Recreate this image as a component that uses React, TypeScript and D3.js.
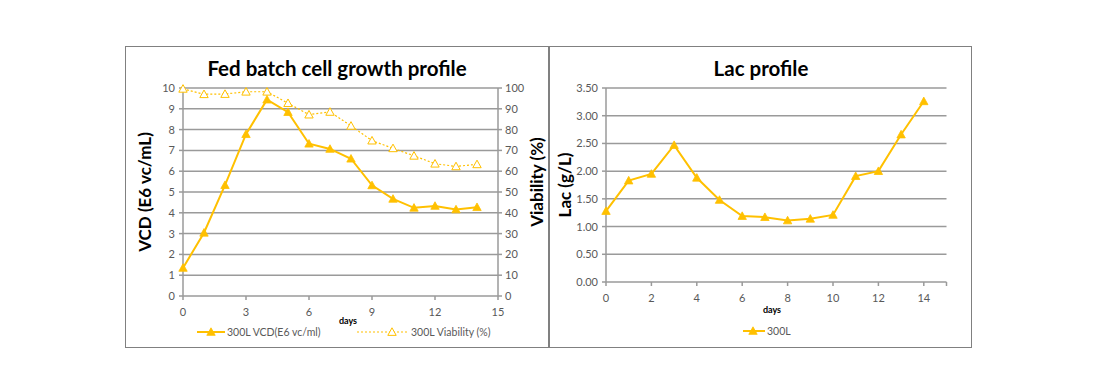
import React, { useEffect, useRef } from "react";
import * as d3 from "d3";

const days = [0, 1, 2, 3, 4, 5, 6, 7, 8, 9, 10, 11, 12, 13, 14];
const vcd = [1.35, 3.04, 5.33, 7.78, 9.44, 8.84, 7.32, 7.07, 6.6, 5.32, 4.67, 4.24, 4.33, 4.16, 4.27];
const viability = [99.6, 97.0, 97.1, 98.2, 98.2, 92.7, 87.2, 88.5, 81.8, 74.7, 71.0, 67.4, 63.6, 62.3, 63.3];
const lac = [1.28, 1.83, 1.95, 2.47, 1.88, 1.48, 1.19, 1.17, 1.11, 1.14, 1.21, 1.91, 2.0, 2.66, 3.26];

const leftXTicks = [0, 3, 6, 9, 12, 15];
const rightXTicks = [0, 2, 4, 6, 8, 10, 12, 14];
const vcdTicks = [0, 1, 2, 3, 4, 5, 6, 7, 8, 9, 10];
const viaTicks = [0, 10, 20, 30, 40, 50, 60, 70, 80, 90, 100];
const lacTicks = [0, 0.5, 1, 1.5, 2, 2.5, 3, 3.5];

const GOLD = "#FFC000";
const GRID = "#9a9a9a";
const LABEL = "#595959";
const FONT = "Lato, 'Open Sans', sans-serif";

function triangle(g, x, y, hollow) {
  const s = 4.2;
  g.append("path")
    .attr("d", `M${x},${y - s}L${x + s},${y + s * 0.8}L${x - s},${y + s * 0.8}Z`)
    .attr("fill", hollow ? "#fff" : GOLD)
    .attr("stroke", GOLD)
    .attr("stroke-width", hollow ? 1 : 0.8);
}

function drawChart(svgEl) {
  const svg = d3.select(svgEl);
  svg.selectAll("*").remove();

  // ---- left panel ----
  svg.append("rect").attr("x", 125.5).attr("y", 46.5).attr("width", 423).attr("height", 301)
    .attr("fill", "#fff").attr("stroke", "#808080").attr("stroke-width", 1);

  const x1 = d3.scaleLinear().domain([0, 15]).range([183, 498]);
  const yV = d3.scaleLinear().domain([0, 10]).range([296, 88]);
  const yP = d3.scaleLinear().domain([0, 100]).range([296, 88]);

  const L = svg.append("g");
  L.selectAll("line.grid").data(vcdTicks.slice(1)).enter().append("line")
    .attr("x1", x1(0)).attr("x2", x1(15)).attr("y1", (d) => yV(d)).attr("y2", (d) => yV(d))
    .attr("stroke", GRID).attr("stroke-width", 1.5);
  // axes
  L.append("line").attr("x1", x1(0)).attr("x2", x1(15)).attr("y1", yV(0)).attr("y2", yV(0)).attr("stroke", GRID).attr("stroke-width", 1.5);
  L.append("line").attr("x1", x1(0)).attr("x2", x1(0)).attr("y1", yV(0)).attr("y2", yV(10)).attr("stroke", GRID).attr("stroke-width", 1.5);
  L.append("line").attr("x1", x1(15)).attr("x2", x1(15)).attr("y1", yV(0)).attr("y2", yV(10)).attr("stroke", GRID).attr("stroke-width", 1.5);
  vcdTicks.forEach((t) => {
    L.append("line").attr("x1", x1(0) - 4).attr("x2", x1(0)).attr("y1", yV(t)).attr("y2", yV(t)).attr("stroke", GRID).attr("stroke-width", 1.5);
    L.append("line").attr("x1", x1(15)).attr("x2", x1(15) + 4).attr("y1", yV(t)).attr("y2", yV(t)).attr("stroke", GRID).attr("stroke-width", 1.5);
    L.append("text").attr("x", x1(0) - 8).attr("y", yV(t) + 4).attr("text-anchor", "end")
      .attr("font-size", 11).attr("fill", LABEL).attr("font-family", FONT).text(t);
  });
  viaTicks.forEach((t) => {
    L.append("text").attr("x", x1(15) + 7).attr("y", yP(t) + 4).attr("text-anchor", "start")
      .attr("font-size", 11).attr("fill", LABEL).attr("font-family", FONT).text(t);
  });
  leftXTicks.forEach((t) => {
    L.append("line").attr("x1", x1(t)).attr("x2", x1(t)).attr("y1", yV(0)).attr("y2", yV(0) + 4).attr("stroke", GRID).attr("stroke-width", 1.5);
    L.append("text").attr("x", x1(t)).attr("y", 316).attr("text-anchor", "middle")
      .attr("font-size", 11).attr("fill", LABEL).attr("font-family", FONT).text(t);
  });

  const lineV = d3.line().x((d, i) => x1(days[i])).y((d) => yV(d));
  const lineP = d3.line().x((d, i) => x1(days[i])).y((d) => yP(d));
  L.append("path").attr("d", lineP(viability)).attr("fill", "none").attr("stroke", GOLD)
    .attr("stroke-width", 1.2).attr("stroke-dasharray", "2,2");
  L.append("path").attr("d", lineV(vcd)).attr("fill", "none").attr("stroke", GOLD).attr("stroke-width", 2);
  viability.forEach((v, i) => triangle(L, x1(days[i]), yP(v), true));
  vcd.forEach((v, i) => triangle(L, x1(days[i]), yV(v), false));

  L.append("text").attr("x", 337).attr("y", 76).attr("text-anchor", "middle").attr("font-weight", "bold")
    .attr("font-size", 20.5).attr("font-family", FONT).attr("fill", "#000").text("Fed batch cell growth profile");
  L.append("text").attr("x", 348).attr("y", 324).attr("text-anchor", "middle").attr("font-weight", "bold")
    .attr("font-size", 9).attr("font-family", FONT).attr("fill", "#000").text("days");
  L.append("text").attr("transform", "translate(151,192) rotate(-90)").attr("text-anchor", "middle")
    .attr("font-weight", "bold").attr("font-size", 17).attr("font-family", FONT).attr("fill", "#000").text("VCD (E6 vc/mL)");
  L.append("text").attr("transform", "translate(543,182) rotate(-90)").attr("text-anchor", "middle")
    .attr("font-weight", "bold").attr("font-size", 17).attr("font-family", FONT).attr("fill", "#000").text("Viability (%)");

  // legend left
  L.append("line").attr("x1", 197).attr("x2", 225).attr("y1", 332).attr("y2", 332).attr("stroke", GOLD).attr("stroke-width", 2);
  triangle(L, 211, 332, false);
  L.append("text").attr("x", 227).attr("y", 336).attr("font-size", 10.5).attr("fill", LABEL).attr("font-family", FONT).text("300L VCD(E6 vc/ml)");
  L.append("line").attr("x1", 357).attr("x2", 408).attr("y1", 332).attr("y2", 332).attr("stroke", GOLD)
    .attr("stroke-width", 1.2).attr("stroke-dasharray", "2,2");
  triangle(L, 392, 332, true);
  L.append("text").attr("x", 411).attr("y", 336).attr("font-size", 10.5).attr("fill", LABEL).attr("font-family", FONT).text("300L Viability (%)");

  // ---- right panel ----
  svg.append("rect").attr("x", 549.5).attr("y", 46.5).attr("width", 422).attr("height", 301)
    .attr("fill", "#fff").attr("stroke", "#808080").attr("stroke-width", 1);

  const x2 = d3.scaleLinear().domain([0, 15]).range([606, 946.5]);
  const yL = d3.scaleLinear().domain([0, 3.5]).range([282, 88]);
  const R = svg.append("g");
  R.selectAll("line.grid").data(lacTicks.slice(1)).enter().append("line")
    .attr("x1", x2(0)).attr("x2", x2(15)).attr("y1", (d) => yL(d)).attr("y2", (d) => yL(d))
    .attr("stroke", GRID).attr("stroke-width", 1.5);
  R.append("line").attr("x1", x2(0)).attr("x2", x2(15)).attr("y1", yL(0)).attr("y2", yL(0)).attr("stroke", GRID).attr("stroke-width", 1.5);
  R.append("line").attr("x1", x2(0)).attr("x2", x2(0)).attr("y1", yL(0)).attr("y2", yL(3.5)).attr("stroke", GRID).attr("stroke-width", 1.5);
  lacTicks.forEach((t) => {
    R.append("line").attr("x1", x2(0) - 4).attr("x2", x2(0)).attr("y1", yL(t)).attr("y2", yL(t)).attr("stroke", GRID).attr("stroke-width", 1.5);
    R.append("text").attr("x", x2(0) - 8).attr("y", yL(t) + 4).attr("text-anchor", "end")
      .attr("font-size", 11).attr("fill", LABEL).attr("font-family", FONT).text(d3.format(".2f")(t));
  });
  rightXTicks.concat([15]).forEach((t) => {
    R.append("line").attr("x1", x2(t)).attr("x2", x2(t)).attr("y1", yL(0)).attr("y2", yL(0) + 4).attr("stroke", GRID).attr("stroke-width", 1.5);
  });
  rightXTicks.forEach((t) => {
    R.append("text").attr("x", x2(t)).attr("y", 302).attr("text-anchor", "middle")
      .attr("font-size", 11).attr("fill", LABEL).attr("font-family", FONT).text(t);
  });
  const lineL = d3.line().x((d, i) => x2(days[i])).y((d) => yL(d));
  R.append("path").attr("d", lineL(lac)).attr("fill", "none").attr("stroke", GOLD).attr("stroke-width", 2);
  lac.forEach((v, i) => triangle(R, x2(days[i]), yL(v), false));

  R.append("text").attr("x", 761).attr("y", 76).attr("text-anchor", "middle").attr("font-weight", "bold")
    .attr("font-size", 20.5).attr("font-family", FONT).attr("fill", "#000").text("Lac profile");
  R.append("text").attr("x", 772).attr("y", 313).attr("text-anchor", "middle").attr("font-weight", "bold")
    .attr("font-size", 9).attr("font-family", FONT).attr("fill", "#000").text("days");
  R.append("text").attr("transform", "translate(571,185) rotate(-90)").attr("text-anchor", "middle")
    .attr("font-weight", "bold").attr("font-size", 17).attr("font-family", FONT).attr("fill", "#000").text("Lac (g/L)");

  R.append("line").attr("x1", 743).attr("x2", 765).attr("y1", 331).attr("y2", 331).attr("stroke", GOLD).attr("stroke-width", 2);
  triangle(R, 753, 331, false);
  R.append("text").attr("x", 767).attr("y", 335).attr("font-size", 10.5).attr("fill", LABEL).attr("font-family", FONT).text("300L");
}

export default function App() {
  const ref = useRef(null);
  useEffect(() => {
    drawChart(ref.current);
  }, []);
  return (
    <svg ref={ref} width={1100} height={387}
      style={{ position: "absolute", left: 0, top: 0, background: "#fff", display: "block" }} />
  );
}
